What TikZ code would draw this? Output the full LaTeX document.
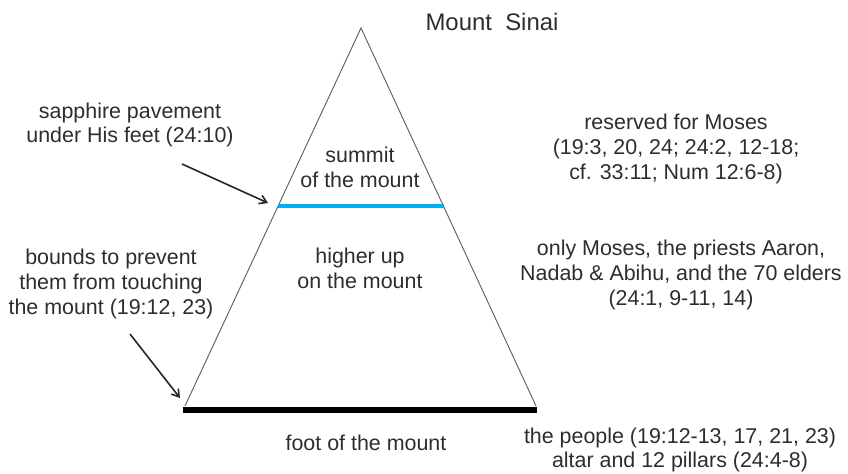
\documentclass[tikz,border=0pt]{standalone}
\usepackage{fontspec}
\setmainfont{Liberation Sans}
\usetikzlibrary{arrows.meta}
\definecolor{txt}{RGB}{45,45,45}
\definecolor{skyline}{RGB}{0,176,240}
\definecolor{edge}{RGB}{90,90,90}
\tikzset{
  lbl/.style={align=center, text=txt, font=\fontsize{21.5}{25}\selectfont, inner sep=0pt},
  ttl/.style={text=txt, font=\fontsize{24}{28}\selectfont, inner sep=0pt},
  pointer/.style={draw=black!85, line width=1.6bp, -{Straight Barb[length=7bp,width=9bp]}},
  side/.style={draw=edge, line width=0.9bp},
}
\begin{document}
\begin{tikzpicture}[x=1bp,y=-1bp]
\useasboundingbox (0,0) rectangle (848,474);
% mountain
\coordinate (apex) at (361,28);
\coordinate (bl) at (185,406);
\coordinate (br) at (536,406);
\coordinate (sl) at (278,206);
\coordinate (sr) at (444,206);
\coordinate (fl) at (183,409.5);
\coordinate (fr) at (537,409.5);
\draw[side] (bl) -- (apex) -- (br);
\draw[skyline, line width=3.5bp] (sl) -- (sr);
\draw[black, line width=6bp] (fl) -- (fr);
% texts
\node[ttl] (title) at (492,22) {Mount\ \ Sinai};
\node[lbl] (summit) at (360,167) {summit\\of the mount};
\node[lbl] (higher) at (360,268) {higher up\\on the mount};
\node[lbl] (foot) at (366,443) {foot of the mount};
\node[lbl] (sapphire) at (130,125) {sapphire pavement\\under His feet (24:10)};
\node[lbl] (bounds) at (111,284) {bounds to prevent\\them from touching\\the mount (19:12, 23)};
\node[lbl] (reserved) at (676,149) {reserved for Moses\\(19:3, 20, 24; 24:2, 12-18;\\cf. 33:11; Num 12:6-8)};
\node[lbl] (only) at (681,275) {only Moses, the priests Aaron,\\Nadab \& Abihu, and the 70 elders\\(24:1, 9-11, 14)};
\node[lbl] (people) at (680,450) {the people (19:12-13, 17, 21, 23)\\altar and 12 pillars (24:4-8)};
% arrows
\coordinate (a1s) at (182,164);
\coordinate (a1e) at (268,203);
\coordinate (a2s) at (130,334);
\coordinate (a2e) at (180,398);
\draw[pointer] (a1s) -- (a1e);
\draw[pointer] (a2s) -- (a2e);
\end{tikzpicture}
\end{document}
